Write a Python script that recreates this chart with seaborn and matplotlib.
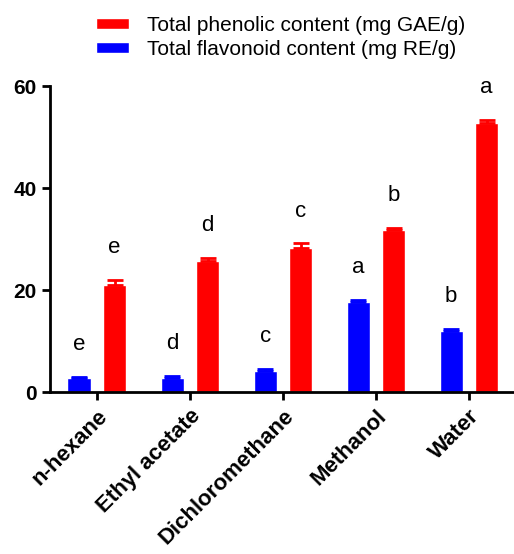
import pandas as pd
import matplotlib
matplotlib.use("Agg")
import matplotlib.pyplot as plt
import seaborn as sns

solvents = ["n-hexane", "Ethyl acetate", "Dichloromethane", "Methanol", "Water"]
phenolic = [21.0, 25.8, 28.3, 31.8, 52.8]
phenolic_err = [1.0, 0.6, 0.9, 0.5, 0.7]
flavonoid = [2.7, 2.8, 4.2, 17.8, 12.0]
flavonoid_err = [0.3, 0.4, 0.4, 0.3, 0.5]
phenolic_letters = ["e", "d", "c", "b", "a"]
flavonoid_letters = ["e", "d", "c", "a", "b"]

PHEN = "Total phenolic content (mg GAE/g)"
FLAV = "Total flavonoid content (mg RE/g)"


def main():
    df = pd.DataFrame({
        "solvent": solvents * 2,
        "value": flavonoid + phenolic,
        "err": flavonoid_err + phenolic_err,
        "letter": flavonoid_letters + phenolic_letters,
        "series": [FLAV] * len(solvents) + [PHEN] * len(solvents),
    })

    sns.set_theme(style="ticks", rc={
        "axes.edgecolor": "black", "xtick.color": "black",
        "ytick.color": "black", "text.color": "black",
        "axes.labelcolor": "black",
    })
    plt.rcParams["font.family"] = ["Liberation Sans", "DejaVu Sans"]

    fig = plt.figure(figsize=(5.14, 5.54), dpi=100)
    ax = fig.add_axes([0.097, 0.292, 0.903, 0.552])

    sns.barplot(data=df, x="solvent", y="value", hue="series",
                hue_order=[FLAV, PHEN], order=solvents,
                palette={FLAV: "#0000ff", PHEN: "#ff0000"},
                width=0.76, gap=0.34, errorbar=None, saturation=1,
                ax=ax)

    # error bars (upper only) and significance letters
    for container, name in zip(ax.containers, [FLAV, PHEN]):
        sub = df[df["series"] == name].set_index("solvent").loc[solvents]
        color = "#0000ff" if name == FLAV else "#ff0000"
        for bar, (_, row) in zip(container, sub.iterrows()):
            xc = bar.get_x() + bar.get_width() / 2
            ax.errorbar(xc, row["value"], yerr=[[0], [row["err"]]],
                        fmt="none", ecolor=color, elinewidth=2,
                        capsize=6, capthick=2)
            ax.text(xc, row["value"] + row["err"] + 6.3, row["letter"],
                    ha="center", va="center", fontsize=16, color="black")

    ax.set_ylim(0, 60)
    ax.set_xlim(-0.505, 4.485)
    ax.set_yticks([0, 20, 40, 60])
    ax.set_xlabel("")
    ax.set_ylabel("")
    for lab in ax.get_yticklabels():
        lab.set_fontweight("bold")
        lab.set_fontsize(15)
    plt.setp(ax.get_xticklabels(), rotation=45, ha="right",
             rotation_mode="anchor", fontweight="bold", fontsize=16)
    ax.tick_params(axis="both", width=2, length=6, color="black",
                   labelcolor="black")
    sns.despine(ax=ax)
    ax.spines["left"].set_linewidth(2)
    ax.spines["bottom"].set_linewidth(2)

    handles, labels = ax.get_legend_handles_labels()
    ax.legend(handles[::-1], labels[::-1], loc="lower left",
              bbox_to_anchor=(0.099, 1.09), frameon=False, fontsize=15,
              handlelength=1.6, handleheight=0.4, handletextpad=0.85,
              labelspacing=0.25, borderpad=0, borderaxespad=0)

    fig.savefig("out.png", dpi=100)


if __name__ == "__main__":
    main()
